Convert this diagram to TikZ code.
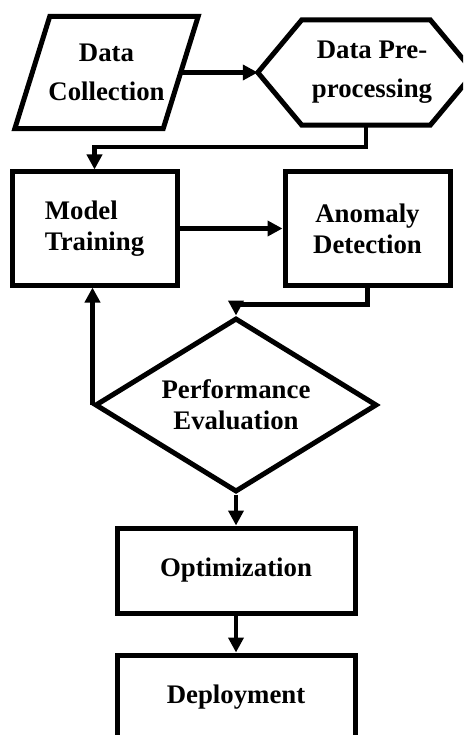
\documentclass[tikz,border=0pt]{standalone}
\usepackage{fontspec}
\setmainfont{Liberation Serif}
\usetikzlibrary{shapes.geometric,arrows.meta}
\begin{document}
\begin{tikzpicture}[x=1pt,y=-1pt,
  shapeline/.style={draw=black,line width=5pt},
  txt/.style={font=\fontsize{26.8}{31}\selectfont\bfseries},
  boxnode/.style={shapeline, rectangle, minimum width=165pt, minimum height=113pt, inner sep=0pt, align=center, txt},
  widebox/.style={shapeline, rectangle, minimum width=238pt, minimum height=85pt, inner sep=0pt, align=center, txt},
  framenode/.style={rectangle, inner sep=0pt, align=center, font=\fontsize{26.8}{39}\selectfont\bfseries},
  conn/.style={line width=4.5pt, -{Triangle[length=15pt,width=15pt]}},
]
\useasboundingbox (0,0) rectangle (463,735);
\clip (0,0) rectangle (463,735);

% Data Collection (parallelogram)
\node[framenode, minimum width=183pt, minimum height=112pt] (dc) at (106.5,72.5) {Data\\Collection};
\draw[shapeline] ([xshift=35pt]dc.north west) -- (dc.north east) -- ([xshift=-35pt]dc.south east) -- (dc.south west) -- cycle;

% Data Pre-processing (hexagon)
\node[framenode, minimum width=216pt, minimum height=105pt] (dp) at (366,72.5) {\hspace*{12pt}Data Pre-\\\hspace*{12pt}processing};
\draw[shapeline] (dp.west) -- ([xshift=44pt]dp.north west) -- ([xshift=-44pt]dp.north east) -- (dp.east) -- ([xshift=-44pt]dp.south east) -- ([xshift=44pt]dp.south west) -- cycle;

% Model Training / Anomaly Detection
\node[boxnode] (mt) at (94.5,228.5) {\begin{tabular}{@{}l@{}}Model\\Training\end{tabular}};
\node[boxnode] (ad) at (367.5,228.5) {Anomaly\\Detection};

% Performance Evaluation (diamond)
\node[shapeline, diamond, aspect=1.62, minimum width=282pt, minimum height=174pt, inner sep=0pt, align=center, txt] (pe) at (236,405) {Performance\\Evaluation};

% Optimization / Deployment
\node[widebox] (op) at (236,570.5) {Optimization};
\node[widebox] (de) at (236,697.5) {Deployment};

% Connectors
\draw[conn] ([xshift=-17.5pt]dc.east) -- (dp.west);
\draw[conn] (dp.south) -- ++(0,22) -| (mt.north);
\draw[conn] (mt.east) -- (ad.west);
\draw[conn] (ad.south) -- ++(0,17) -| (pe.north);
\draw[conn] (pe.west) -- (pe.west |- mt.south);
\draw[conn] (pe.south) -- (op.north);
\draw[conn] (op.south) -- (de.north);
\end{tikzpicture}
\end{document}
